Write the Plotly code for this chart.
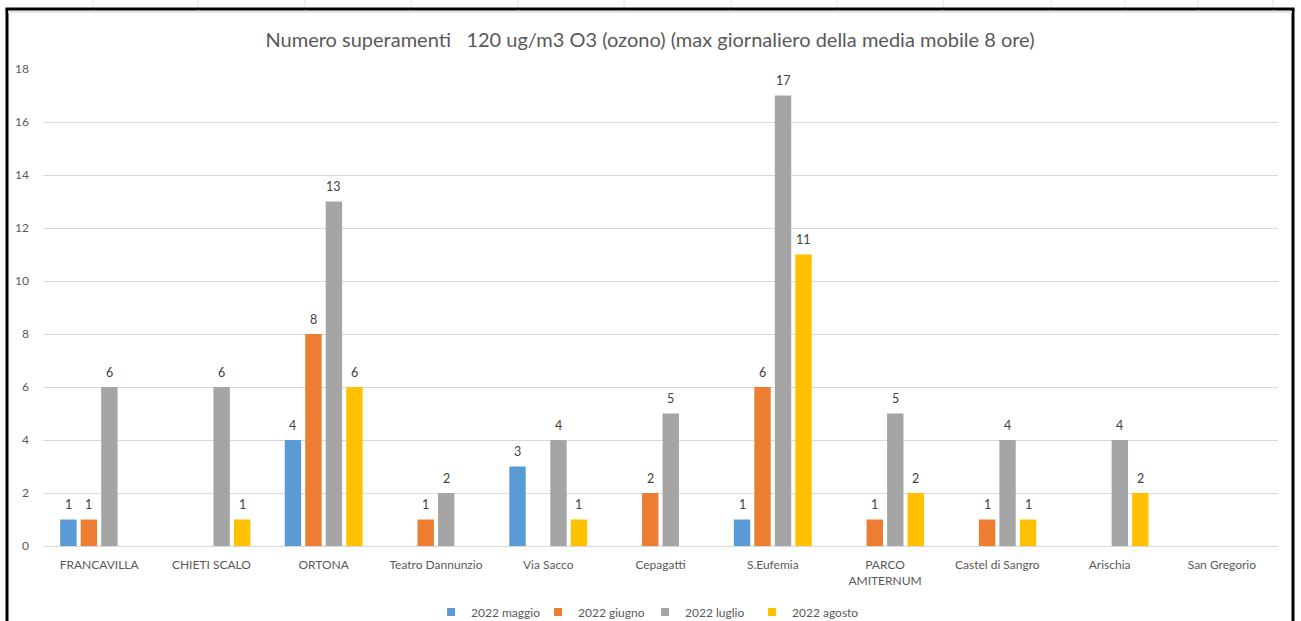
import plotly.graph_objects as go

categories = ["FRANCAVILLA", "CHIETI SCALO", "ORTONA", "Teatro Dannunzio", "Via Sacco",
              "Cepagatti", "S.Eufemia", "PARCO<br>AMITERNUM", "Castel di Sangro",
              "Arischia", "San Gregorio"]
series_names = ["2022 maggio", "2022 giugno", "2022 luglio", "2022 agosto"]
maggio = [1, None, 4, None, 3, None, 1, None, None, None, None]
giugno = [1, None, 8, 1, None, 2, 6, 1, 1, None, None]
luglio = [6, 6, 13, 2, 4, 5, 17, 5, 4, 4, None]
agosto = [None, 1, 6, None, 1, None, 11, 2, 1, 2, None]
colors = ["#5B9BD5", "#ED7D31", "#A5A5A5", "#FFC000"]
y_ticks = [0, 2, 4, 6, 8, 10, 12, 14, 16, 18]

title = "Numero superamenti \u00a0 120 ug/m3 O3 (ozono) (max giornaliero della media mobile 8 ore)"

W, H = 1301, 621
L, R, T, B = 43, 1278, 69, 546

def px(x):
    return (x - L) / (R - L)

def py(y):
    return (B - y) / (B - T)

FONT = "Lato, Calibri, Carlito, sans-serif"

fig = go.Figure()
all_series = [maggio, giugno, luglio, agosto]
for name, vals, col in zip(series_names, all_series, colors):
    fig.add_trace(go.Bar(name=name, x=categories, y=vals, marker_color=col,
                         marker_line_width=0, showlegend=False))
# legend entries with small square markers (Excel style)
for name, col in zip(series_names, colors):
    fig.add_trace(go.Scatter(name=name, x=[None], y=[None], mode="markers",
                             marker=dict(symbol="square", size=8, color=col),
                             showlegend=True, hoverinfo="skip"))

# data labels
slot = (R - L) / len(categories) * (1 - 0.27) / 4
annotations = []
for i, vals in enumerate(all_series):
    for c, v in zip(categories, vals):
        if v is None:
            continue
        annotations.append(dict(x=c, y=v, xref="x", yref="y", text=str(v),
                                showarrow=False, xshift=(i - 1.5) * slot,
                                yshift=15, yanchor="middle",
                                font=dict(size=12.5, color="#404040", family=FONT)))

shapes = []
# chart border (black)
shapes.append(dict(type="line", xref="paper", yref="paper", x0=px(7), x1=px(7),
                   y0=py(9), y1=py(625), line=dict(color="black", width=3)))
shapes.append(dict(type="line", xref="paper", yref="paper", x0=px(1293), x1=px(1293),
                   y0=py(9), y1=py(625), line=dict(color="black", width=3)))
shapes.append(dict(type="line", xref="paper", yref="paper", x0=px(5.5), x1=px(1294.5),
                   y0=py(9), y1=py(9), line=dict(color="black", width=3)))
shapes.append(dict(type="line", xref="paper", yref="paper", x0=px(8), x1=px(1292),
                   y0=py(12), y1=py(12), line=dict(color="#E6E6E6", width=2)))
for sx in [93, 198, 305, 411, 518, 624, 731, 837, 943, 1051, 1125, 1198, 1273]:
    shapes.append(dict(type="line", xref="paper", yref="paper", x0=px(sx), x1=px(sx),
                       y0=py(10), y1=py(13), line=dict(color="#D0D0D0", width=1)))
    shapes.append(dict(type="line", xref="paper", yref="paper", x0=px(sx), x1=px(sx),
                       y0=py(0), y1=py(7), line=dict(color="#E0E0E0", width=1)))

fig.update_layout(
    width=W, height=H,
    margin=dict(l=L, r=W - R, t=T, b=H - B, pad=0, autoexpand=False),
    paper_bgcolor="white", plot_bgcolor="white",
    barmode="group", bargap=0.27, bargroupgap=0.2,
    title=dict(text=title, x=650 / W, xref="container", xanchor="center",
               y=1 - 40 / H, yanchor="middle",
               font=dict(size=20, color="#595959", family=FONT)),
    font=dict(family=FONT, color="#595959", size=12),
    legend=dict(orientation="h", x=0.4875, xanchor="center",
                yref="container", y=1 - 612 / H, yanchor="middle",
                font=dict(size=12, color="#595959", family=FONT),
                itemwidth=30, traceorder="normal",
                entrywidthmode="pixels", entrywidth=62),
    annotations=annotations,
    shapes=shapes,
    showlegend=True,
)
fig.update_yaxes(range=[0, 18], tickvals=y_ticks, showgrid=True, gridcolor="#D9D9D9",
                 gridwidth=1, zeroline=False, showline=False, ticks="",
                 ticklabelstandoff=13, tickfont=dict(size=12, color="#595959"))
fig.update_xaxes(showline=True, linecolor="#D9D9D9", linewidth=1, ticks="",
                 ticklabelstandoff=8, tickfont=dict(size=12, color="#595959"))

fig.write_html("out.html")
